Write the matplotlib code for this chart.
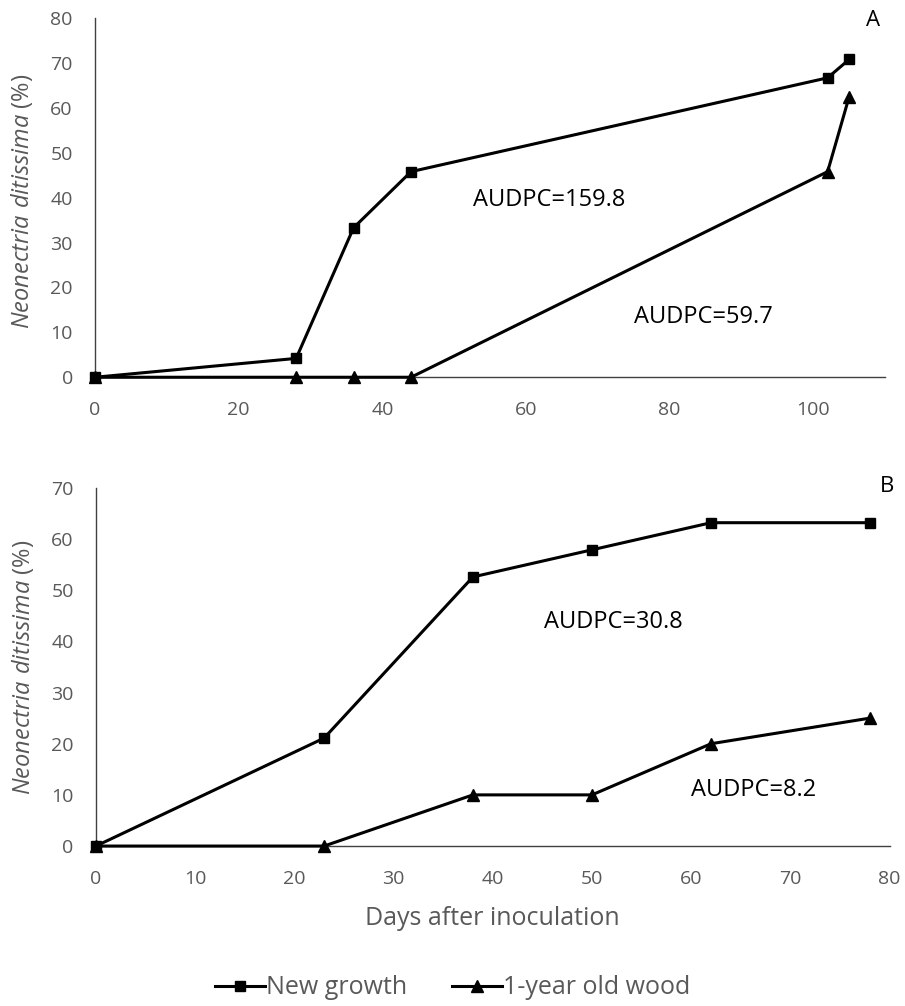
import matplotlib
matplotlib.use("Agg")
import matplotlib.pyplot as plt
from matplotlib.lines import Line2D

# panel A
a_days_new = [0, 28, 36, 44, 102, 105]
a_new = [0, 4.2, 33.3, 45.8, 66.7, 70.8]
a_days_old = [0, 28, 36, 44, 102, 105]
a_old = [0, 0, 0, 0, 45.8, 62.5]

# panel B
b_days = [0, 23, 38, 50, 62, 78]
b_new = [0, 21.1, 52.6, 57.9, 63.2, 63.2]
b_old = [0, 0, 10, 10, 20, 25]

labels = ["New growth", "1-year old wood"]

plt.rcParams['font.family'] = ['Open Sans', 'DejaVu Sans']
plt.rcParams['mathtext.fontset'] = 'custom'
plt.rcParams['mathtext.it'] = 'Open Sans:italic'
plt.rcParams['mathtext.rm'] = 'Open Sans'

grey = '#595959'
ylab = r"$\it{Neonectria\ ditissima}$ (%)"

fig = plt.figure(figsize=(9.05, 10.06), dpi=100)
axA = fig.add_axes([0.105, 0.625, 0.873, 0.357])
axB = fig.add_axes([0.106, 0.159, 0.877, 0.356])


def style(ax, ly):
    for s in ['top', 'right']:
        ax.spines[s].set_visible(False)
    for s in ['left', 'bottom']:
        ax.spines[s].set_color('#404040')
        ax.spines[s].set_linewidth(1.0)
    ax.tick_params(length=0, labelsize=14, colors=grey)
    ax.tick_params(axis='y', pad=16)
    ax.tick_params(axis='x', pad=17)
    ax.set_ylabel(ylab, fontsize=17, color=grey)
    ax.yaxis.set_label_coords(-0.076, ly)


line_kw = dict(color='black', lw=2.2, clip_on=False, zorder=3)

axA.plot(a_days_new, a_new, marker='s', ms=7.5, **line_kw)
axA.plot(a_days_old, a_old, marker='^', ms=8.5, **line_kw)
axA.set_xlim(0, 110)
axA.set_ylim(0, 80)
axA.set_xticks(range(0, 101, 20))
axA.set_yticks(range(0, 81, 10))
style(axA, 0.49)
axA.text(52.6, 39.4, "AUDPC=159.8", fontsize=17, va='center')
axA.text(75, 13.4, "AUDPC=59.7", fontsize=17, va='center')

axB.plot(b_days, b_new, marker='s', ms=7.5, **line_kw)
axB.plot(b_days, b_old, marker='^', ms=8.5, **line_kw)
axB.set_xlim(0, 80)
axB.set_ylim(0, 70)
axB.set_xticks(range(0, 81, 10))
axB.set_yticks(range(0, 71, 10))
style(axB, 0.50)
axB.text(45.2, 43.8, "AUDPC=30.8", fontsize=17, va='center')
axB.text(60, 11, "AUDPC=8.2", fontsize=17, va='center')
axB.set_xlabel("Days after inoculation", fontsize=18, color=grey)
axB.xaxis.set_label_coords(0.5, -0.168)

fig.text(873 / 905, 1 - 20 / 1006, "A", fontsize=16, ha='center', va='center')
fig.text(887 / 905, 1 - 487 / 1006, "B", fontsize=16, ha='center', va='center')

handles = [Line2D([], [], color='black', lw=2.2, marker='s', ms=7),
           Line2D([], [], color='black', lw=2.2, marker='^', ms=8)]
leg = fig.legend(handles, labels, loc='center', bbox_to_anchor=(0.5, 0.018),
                 ncol=2, frameon=False, fontsize=18, handlelength=2.0,
                 handletextpad=0.05, columnspacing=1.8)
for t in leg.get_texts():
    t.set_color(grey)

fig.savefig("out.png", dpi=100)
